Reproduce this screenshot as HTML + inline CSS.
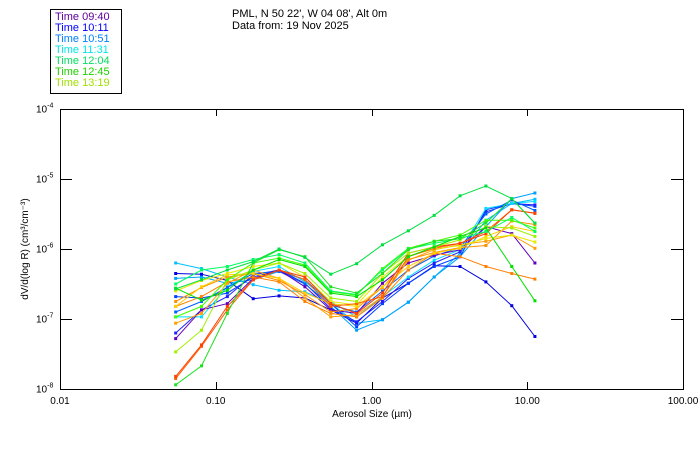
<!DOCTYPE html>
<html><head><meta charset="utf-8"><style>
body{margin:0;background:#fff;}
svg{display:block;font-family:"Liberation Sans",sans-serif;}
</style></head><body>
<svg id="chart" width="700" height="450" viewBox="0 0 700 450">
<rect width="700" height="450" fill="#fff"/>
<g>
<rect x="50.5" y="9.5" width="71" height="84" fill="none" stroke="#000"/>
<text x="55" y="20" font-size="11" fill="#6000a0">Time 09:40</text>
<text x="55" y="31" font-size="11" fill="#0000ff">Time 10:11</text>
<text x="55" y="42" font-size="11" fill="#0080ff">Time 10:51</text>
<text x="55" y="53" font-size="11" fill="#00e8e8">Time 11:31</text>
<text x="55" y="64" font-size="11" fill="#00e060">Time 12:04</text>
<text x="55" y="75" font-size="11" fill="#20d000">Time 12:45</text>
<text x="55" y="86" font-size="11" fill="#a0e000">Time 13:19</text>
</g>
<text x="232" y="17" font-size="11">PML, N 50 22', W 04 08', Alt 0m</text>
<text x="232" y="29" font-size="11">Data from: 19 Nov 2025</text>
<text transform="translate(28,249) rotate(-90)" text-anchor="middle" font-size="10">dV/d(log R) (cm³/cm⁻³)</text>
<text x="372" y="417" text-anchor="middle" font-size="10">Aerosol Size (µm)</text>
<g id="axes"></g>
<g id="series"></g>
</svg>
<script>
const sizes = [0.0553,0.0810,0.1187,0.1740,0.2550,0.3737,0.5477,0.8027,1.176,1.724,2.527,3.703,5.427,7.954,11.2];
const xTicks = [0.01,0.1,1,10,100];
const xTickLabels = ["0.01","0.10","1.00","10.00","100.00"];
const yTicks = [-4,-5,-6,-7,-8];
const sA=[-6.57,-6.44,-6.30,-6.18,-6.00,-6.12,-6.36,-6.21,-5.94,-5.74,-5.52,-5.24,-5.10,-5.28,-5.63];
const sB=[-6.35,-6.36,-6.45,-6.71,-6.67,-6.70,-6.87,-7.06,-6.70,-6.49,-6.24,-6.25,-6.47,-6.81,-7.25];
const sC=[-6.20,-6.28,-6.40,-6.51,-6.59,-6.61,-6.78,-7.06,-7.01,-6.76,-6.40,-6.06,-5.59,-5.35,-5.29];
const sD=[-6.82,-6.68,-6.47,-6.40,-6.47,-6.75,-6.92,-6.97,-6.70,-6.30,-6.06,-6.11,-6.25,-6.35,-6.43];
const sE=[-6.56,-6.73,-6.59,-6.30,-6.15,-6.25,-6.63,-6.68,-6.44,-6.11,-5.97,-5.82,-5.70,-6.25,-6.74];
const sF=[-7.82,-7.37,-6.82,-6.44,-6.30,-6.40,-6.78,-6.92,-6.63,-6.06,-5.97,-5.92,-5.78,-5.44,-5.49];
const sG=[-7.94,-7.67,-6.92,-6.20,-6.01,-6.11,-6.54,-6.63,-6.35,-6.01,-5.89,-5.85,-5.63,-5.28,-5.63];
const sH=[-6.42,-6.40,-6.49,-6.44,-6.32,-6.44,-6.82,-7.16,-7.01,-6.76,-6.40,-6.11,-5.68,-5.28,-5.20];
const sI=[-6.68,-6.70,-6.63,-6.40,-6.30,-6.44,-6.78,-7.11,-6.78,-6.49,-6.25,-6.11,-5.44,-5.35,-5.39];
const sJ=[-6.82,-6.54,-6.37,-6.35,-6.42,-6.63,-6.78,-6.82,-6.54,-6.25,-6.06,-5.99,-5.82,-5.68,-5.75];
const sK=[-7.28,-6.87,-6.78,-6.42,-6.30,-6.54,-6.87,-6.92,-6.49,-6.20,-6.09,-6.01,-5.68,-5.78,-6.20];
const sL=[-7.47,-7.16,-6.44,-6.30,-6.20,-6.35,-6.70,-6.75,-6.35,-6.06,-5.97,-5.87,-5.68,-5.70,-5.82];
const sM=[-7.06,-6.92,-6.49,-6.30,-6.42,-6.70,-6.97,-6.94,-6.68,-6.16,-6.01,-5.94,-5.89,-5.80,-5.99];
const sN=[-7.20,-6.87,-6.68,-6.37,-6.30,-6.49,-6.85,-7.04,-6.75,-6.42,-6.20,-6.04,-5.47,-5.35,-5.37];
const sO=[-6.97,-6.82,-6.44,-6.20,-6.13,-6.23,-6.61,-6.66,-6.28,-5.99,-5.89,-5.80,-5.59,-5.59,-5.70];
const sP=[-6.97,-6.97,-6.54,-6.32,-6.25,-6.47,-6.75,-6.97,-6.68,-6.40,-6.16,-6.01,-5.42,-5.35,-5.32];
const sQ=[-7.85,-7.39,-6.87,-6.44,-6.30,-6.44,-6.82,-6.78,-6.68,-6.11,-5.99,-5.92,-5.75,-5.44,-5.49];
const sR=[-6.60,-6.45,-6.35,-6.25,-6.20,-6.40,-6.75,-6.80,-6.40,-6.10,-6.00,-5.95,-5.85,-5.80,-5.90];
const sS=[-6.75,-6.55,-6.40,-6.35,-6.45,-6.65,-6.90,-6.85,-6.55,-6.15,-6.05,-5.98,-5.95,-5.60,-5.65];
const sT=[-6.50,-6.30,-6.25,-6.15,-6.08,-6.20,-6.60,-6.65,-6.30,-6.00,-5.92,-5.85,-5.75,-5.55,-5.75];
const sU=[-6.90,-6.75,-6.55,-6.35,-6.32,-6.50,-6.80,-6.90,-6.60,-6.30,-6.10,-5.98,-5.50,-5.30,-5.45];
const seriesList=[sC,sH,sB,sI,sN,sP,sU,sK,sD,sM,sS,sJ,sR,sQ,sF,sL,sO,sT,sE,sG,sA];
const colors=["#00c0ff","#00a0ff","#0000e0","#0040ff","#2020ff","#00e0ff","#0060ff","#6000c0","#ff8000","#ffa000","#ff9000","#ffd000","#e8e800","#ff6000","#ff4000","#a0f000","#40ff00","#00ff60","#00e000","#20e020","#00e040"];

const L=60,R=683,T=109,B=389;
const xs=v=>L+(Math.log10(v)+2)/4*(R-L);
const ys=lv=>T+(-4-lv)/4*(B-T);
const NS="http://www.w3.org/2000/svg";
const axes=document.getElementById('axes');
function mk(tag,attrs,parent){const e=document.createElementNS(NS,tag);for(const k in attrs)e.setAttribute(k,attrs[k]);parent.appendChild(e);return e;}
const frame=mk('rect',{x:L+0.5,y:T+0.5,width:R-L,height:B-T,fill:'none',stroke:'#000'},axes);


xTicks.forEach((t,i)=>{
  const x=Math.round(xs(t))+0.5;
  if(i>0&&i<xTicks.length-1){
    const a=mk('line',{x1:x,x2:x,y1:B,y2:B-7,stroke:'#000'},axes);
    
    
    const b=mk('line',{x1:x,x2:x,y1:T,y2:T+7,stroke:'#000'},axes);
    
    
  }
  const tx=mk('text',{x:xs(t),y:404,'text-anchor':'middle','font-size':'10'},axes);
  tx.textContent=xTickLabels[i];
  
  
});
yTicks.forEach((t,i)=>{
  const y=Math.round(ys(t))+0.5;
  if(i>0&&i<yTicks.length-1){
    const a=mk('line',{x1:L,x2:L+12,y1:y,y2:y,stroke:'#000'},axes);
    
    
    const b=mk('line',{x1:R-12,x2:R,y1:y,y2:y,stroke:'#000'},axes);
    
    
  }
  const tx=mk('text',{x:36,y:y+3,'font-size':'10'},axes);
  tx.innerHTML='10<tspan dy="-5" font-size="7">'+t+'</tspan>';
  
  
});
const sg=document.getElementById('series');
seriesList.forEach((s,si)=>{
  const g=mk('g',{},sg);
  
  
  const pts=s.map((v,i)=>xs(sizes[i]).toFixed(1)+','+ys(v).toFixed(1)).join(' ');
  const pl=mk('polyline',{points:pts,fill:'none',stroke:colors[si],'stroke-width':1},g);
  
  
  s.forEach((v,i)=>{
    const m=mk('rect',{x:xs(sizes[i])-1.5,y:ys(v)-1.5,width:3,height:3,fill:colors[si]},g);
    
    
  });
});
</script>
</body></html>
